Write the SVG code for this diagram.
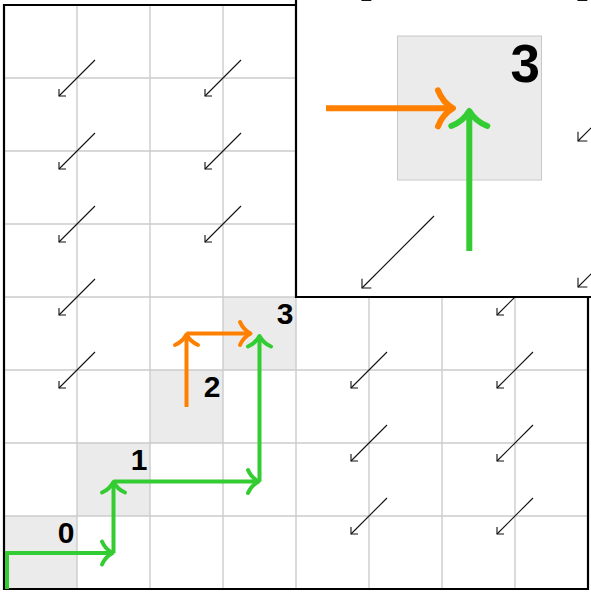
<svg xmlns="http://www.w3.org/2000/svg" width="591" height="592" viewBox="0 0 591 592">
  <style>
    .cell { fill: #ebebeb; }
    .grid { stroke: #cccccc; stroke-width: 1.4; fill: none; }
    .frame { stroke: #000; stroke-width: 2.2; fill: none; }
    .vec { stroke: #111; stroke-width: 1.1; fill: none; marker-end: url(#thin); }
    .vecL { stroke: #111; stroke-width: 1.1; fill: none; marker-end: url(#thinL); }
    .lbl { font-family: "Liberation Sans", Arial, sans-serif; font-weight: bold; font-size: 30px; fill: #000; text-anchor: end; }
    .g { stroke: #33cc33; stroke-width: 4; fill: none; stroke-linejoin: miter; marker-end: url(#hg); }
    .o { stroke: #ff8000; stroke-width: 4; fill: none; stroke-linejoin: miter; marker-end: url(#ho); }
    .gL { stroke: #33cc33; stroke-width: 6; fill: none; marker-end: url(#hgL); }
    .oL { stroke: #ff8000; stroke-width: 6; fill: none; marker-end: url(#hoL); }
  </style>
  <defs>
    <marker id="thin" markerUnits="userSpaceOnUse" orient="auto" markerWidth="20" markerHeight="20" refX="0" refY="0" viewBox="-10 -10 20 20" overflow="visible">
      <path d="M-4.95,-4.95 L0,0 L-4.95,4.95" fill="none" stroke="#111" stroke-width="1.1"/>
    </marker>
    <marker id="thinL" markerUnits="userSpaceOnUse" orient="auto" markerWidth="24" markerHeight="24" refX="0" refY="0" viewBox="-12 -12 24 24" overflow="visible">
      <path d="M-6.6,-6.6 L0,0 L-6.6,6.6" fill="none" stroke="#111" stroke-width="1.1"/>
    </marker>
    <marker id="hg" markerUnits="userSpaceOnUse" orient="auto" markerWidth="30" markerHeight="30" refX="0" refY="0" viewBox="-15 -15 30 30" overflow="visible">
      <path d="M-10.5,-11.5 Q-7.3,-4 0,0 Q-7.3,4 -10.5,11.5" fill="none" stroke="#33cc33" stroke-width="4" stroke-linecap="round" stroke-linejoin="round"/>
    </marker>
    <marker id="ho" markerUnits="userSpaceOnUse" orient="auto" markerWidth="30" markerHeight="30" refX="0" refY="0" viewBox="-15 -15 30 30" overflow="visible">
      <path d="M-10.5,-11.5 Q-7.3,-4 0,0 Q-7.3,4 -10.5,11.5" fill="none" stroke="#ff8000" stroke-width="4" stroke-linecap="round" stroke-linejoin="round"/>
    </marker>
    <marker id="hgL" markerUnits="userSpaceOnUse" orient="auto" markerWidth="44" markerHeight="44" refX="0" refY="0" viewBox="-22 -22 44 44" overflow="visible">
      <path d="M-15,-18 Q-10.5,-6.3 0,0 Q-10.5,6.3 -15,18" fill="none" stroke="#33cc33" stroke-width="6" stroke-linecap="round" stroke-linejoin="round"/>
    </marker>
    <marker id="hoL" markerUnits="userSpaceOnUse" orient="auto" markerWidth="44" markerHeight="44" refX="0" refY="0" viewBox="-22 -22 44 44" overflow="visible">
      <path d="M-15,-18 Q-10.5,-6.3 0,0 Q-10.5,6.3 -15,18" fill="none" stroke="#ff8000" stroke-width="6" stroke-linecap="round" stroke-linejoin="round"/>
    </marker>
    <clipPath id="insetClip">
      <rect x="296" y="-10" width="305" height="307"/>
    </clipPath>
  </defs>

  <rect x="0" y="0" width="591" height="592" fill="#fff"/>

  <!-- highlighted cells -->
  <g id="cell0"><rect class="cell" x="4" y="516" width="73" height="73"/></g>
  <g id="cell1"><rect class="cell" x="77" y="443" width="73" height="73"/></g>
  <g id="cell2"><rect class="cell" x="150" y="370" width="73" height="73"/></g>
  <g id="cell3"><rect class="cell" x="223" y="297" width="73" height="73"/></g>

  <!-- grid -->
  <g id="grid" class="grid">
    <path d="M77,5V589 M150,5V589 M223,5V589 M296,5V589 M369,5V589 M442,5V589 M515,5V589"/>
    <path d="M4,78H588 M4,151H588 M4,224H588 M4,297H588 M4,370H588 M4,443H588 M4,516H588"/>
  </g>

  <!-- vector field -->
  <g id="field">
    <path class="vec" d="M95,60L59,96"/>
    <path class="vec" d="M95,133L59,169"/>
    <path class="vec" d="M95,206L59,242"/>
    <path class="vec" d="M95,279L59,315"/>
    <path class="vec" d="M95,352L59,388"/>
    <path class="vec" d="M241,60L205,96"/>
    <path class="vec" d="M241,133L205,169"/>
    <path class="vec" d="M241,206L205,242"/>
    <path class="vec" d="M387,352L351,388"/>
    <path class="vec" d="M387,425L351,461"/>
    <path class="vec" d="M387,498L351,534"/>
    <path class="vec" d="M533,279L497,315"/>
    <path class="vec" d="M533,352L497,388"/>
    <path class="vec" d="M533,425L497,461"/>
    <path class="vec" d="M533,498L497,534"/>
  </g>

  <!-- frame -->
  <path class="frame" d="M296,5H4V589H588V297"/>

  <!-- labels -->
  <g id="labels">
    <text class="lbl" x="74.5" y="543">0</text>
    <text class="lbl" x="147.5" y="470">1</text>
    <text class="lbl" x="220.5" y="397">2</text>
    <text class="lbl" x="293.5" y="324">3</text>
  </g>

  <!-- connectors -->
  <g id="connectors">
    <path class="g" d="M7,589V553H112.5"/>
    <path class="g" d="M113.5,553V482"/>
    <path class="g" d="M113.5,481.5H258.5"/>
    <path class="g" d="M259.5,481.5V336"/>
    <path class="o" d="M186.5,407V334.5"/>
    <path class="o" d="M186.5,333.5H250.5"/>
  </g>

  <!-- inset -->
  <g id="inset">
    <rect x="296" y="-10" width="305" height="307" fill="#fff"/>
    <g clip-path="url(#insetClip)">
      <rect x="397.5" y="36" width="144" height="144" fill="#ebebeb" stroke="#c8c8c8" stroke-width="1"/>
      <text x="540" y="81.5" font-family="Liberation Sans, Arial, sans-serif" font-weight="bold" font-size="53" text-anchor="end" fill="#000">3</text>
      <path class="vecL" d="M434,216L362,288"/>
      <path class="vecL" d="M650,69L578,141"/>
      <path class="vecL" d="M650,215L578,287"/>
      <path class="vecL" d="M434,-71.5L362,0.5"/>
      <path class="vecL" d="M650,-71.5L578,0.5"/>
      <path class="oL" d="M326,108.3H453"/>
      <path class="gL" d="M469.3,251V111"/>
    </g>
    <path class="frame" d="M296,0V297H591"/>
  </g>
</svg>
